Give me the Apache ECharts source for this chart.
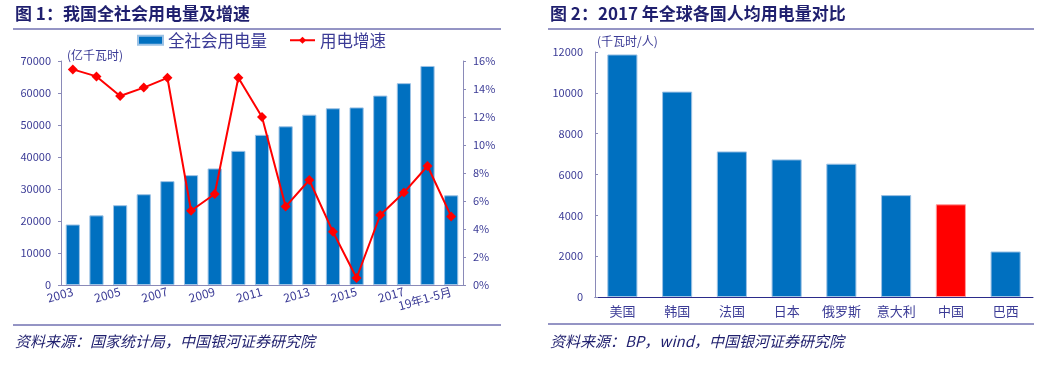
<!doctype html>
<html><head><meta charset="utf-8"></head>
<body style="margin:0;background:#fff">
<div id="container" style="width:1050px;height:375px"></div>
<script src="https://cdn.jsdelivr.net/npm/echarts@6/dist/echarts.min.js"></script>
<script>
var years = ['2003','2004','2005','2006','2007','2008','2009','2010','2011','2012','2013','2014','2015','2016','2017','2018','19年1-5月'];
var usage = [18910,21761,24940,28368,32458,34334,36430,41923,46928,49591,53223,55233,55500,59198,63077,68449,28029];
var growth = [15.4,14.9,13.5,14.1,14.8,5.3,6.5,14.8,12.0,5.6,7.5,3.8,0.5,5.0,6.6,8.5,4.9];

var countries = ['美国','韩国','法国','日本','俄罗斯','意大利','中国','巴西'];
var perCapita = [11880,10060,7130,6740,6530,4990,4540,2230];

var FONT = '"Noto Sans CJK SC", sans-serif';
var NAVY = '#1f1f6e';
var LBL = '#3b3b96';
var AXC = '#8a8ab8';

var myChart = echarts.init(document.getElementById('container'));

var plain = function (v) { return String(v); };

var option = {
    animation: false,
    textStyle: {fontFamily: FONT},
    title: [
        {text: '图 1：我国全社会用电量及增速', left: 10, top: 0,
         textStyle: {fontSize: 17, fontWeight: 'bold', color: NAVY, fontFamily: FONT}},
        {text: '图 2：2017 年全球各国人均用电量对比', left: 545, top: 0,
         textStyle: {fontSize: 17, fontWeight: 'bold', color: NAVY, fontFamily: FONT}},
        {text: '资料来源：国家统计局，中国银河证券研究院', left: 10, top: 329,
         textStyle: {fontSize: 15, fontWeight: 'normal', fontStyle: 'italic', color: NAVY, fontFamily: FONT}},
        {text: '资料来源：BP，wind，中国银河证券研究院', left: 545, top: 329,
         textStyle: {fontSize: 15, fontWeight: 'normal', fontStyle: 'italic', color: NAVY, fontFamily: FONT}}
    ],
    legend: {
        left: 132, top: 27, itemGap: 22, itemWidth: 25, itemHeight: 9,
        textStyle: {fontSize: 16.5, color: LBL, fontFamily: FONT},
        data: [{name: '全社会用电量', icon: 'rect'}, '用电增速']
    },
    graphic: [
        {type: 'line', shape: {x1: 13, y1: 29, x2: 501, y2: 29}, style: {stroke: '#2b2b8a', lineWidth: 1}},
        {type: 'line', shape: {x1: 13, y1: 325, x2: 501, y2: 325}, style: {stroke: '#2b2b8a', lineWidth: 1}},
        {type: 'line', shape: {x1: 548, y1: 29, x2: 1034, y2: 29}, style: {stroke: '#2b2b8a', lineWidth: 1}},
        {type: 'line', shape: {x1: 548, y1: 324, x2: 1034, y2: 324}, style: {stroke: '#2b2b8a', lineWidth: 1}},
        {type: 'text', left: 67, top: 49, style: {text: '(亿千瓦时)', fontSize: 12, fill: LBL, fontFamily: FONT}},
        {type: 'text', left: 597, top: 35, style: {text: '(千瓦时/人)', fontSize: 12, fill: LBL, fontFamily: FONT}}
    ],
    grid: [
        {left: 61, right: 587, top: 61, bottom: 90},
        {left: 595, right: 17, top: 52, bottom: 78}
    ],
    xAxis: [
        {type: 'category', gridIndex: 0, data: years,
         axisLine: {lineStyle: {color: AXC}},
         axisTick: {inside: true, length: 4, lineStyle: {color: AXC}},
         axisLabel: {interval: 1, rotate: 16, fontSize: 12, color: LBL, margin: 6}},
        {type: 'category', gridIndex: 1, data: countries,
         axisLine: {lineStyle: {color: '#2b2b8a'}},
         axisTick: {show: false},
         axisLabel: {fontSize: 13, color: LBL, margin: 8}}
    ],
    yAxis: [
        {type: 'value', gridIndex: 0, min: 0, max: 70000, interval: 10000,
         axisLine: {show: true, lineStyle: {color: AXC}},
         axisTick: {show: true, length: 3, lineStyle: {color: AXC}},
         splitLine: {show: false},
         axisLabel: {fontSize: 11, color: LBL, margin: 10, formatter: plain}},
        {type: 'value', gridIndex: 0, position: 'right', min: 0, max: 16, interval: 2,
         axisLine: {show: true, lineStyle: {color: AXC}},
         axisTick: {show: true, length: 3, lineStyle: {color: AXC}},
         splitLine: {show: false},
         axisLabel: {fontSize: 11, color: LBL, margin: 10, formatter: '{value}%'}},
        {type: 'value', gridIndex: 1, min: 0, max: 12000, interval: 2000,
         axisLine: {show: true, lineStyle: {color: AXC}},
         axisTick: {show: true, inside: true, length: 3, lineStyle: {color: AXC}},
         splitLine: {show: false},
         axisLabel: {fontSize: 11, color: LBL, margin: 12, formatter: plain}}
    ],
    series: [
        {name: '全社会用电量', type: 'bar', xAxisIndex: 0, yAxisIndex: 0, data: usage,
         barWidth: '60%',
         itemStyle: {color: '#0070c0', borderColor: '#9cc2e5', borderWidth: 1}},
        {name: '用电增速', type: 'line', xAxisIndex: 0, yAxisIndex: 1, data: growth,
         symbol: 'diamond', symbolSize: 10,
         lineStyle: {color: '#ff0000', width: 2},
         itemStyle: {color: '#ff0000'}},
        {name: '人均用电量', type: 'bar', xAxisIndex: 1, yAxisIndex: 2,
         barWidth: '55%',
         data: perCapita.map(function (v, i) {
             return countries[i] === '中国'
                 ? {value: v, itemStyle: {color: '#ff0000', borderColor: '#ff9a9a'}}
                 : v;
         }),
         itemStyle: {color: '#0070c0', borderColor: '#9cc2e5', borderWidth: 1}}
    ]
};
myChart.setOption(option);
</script>
</body></html>
